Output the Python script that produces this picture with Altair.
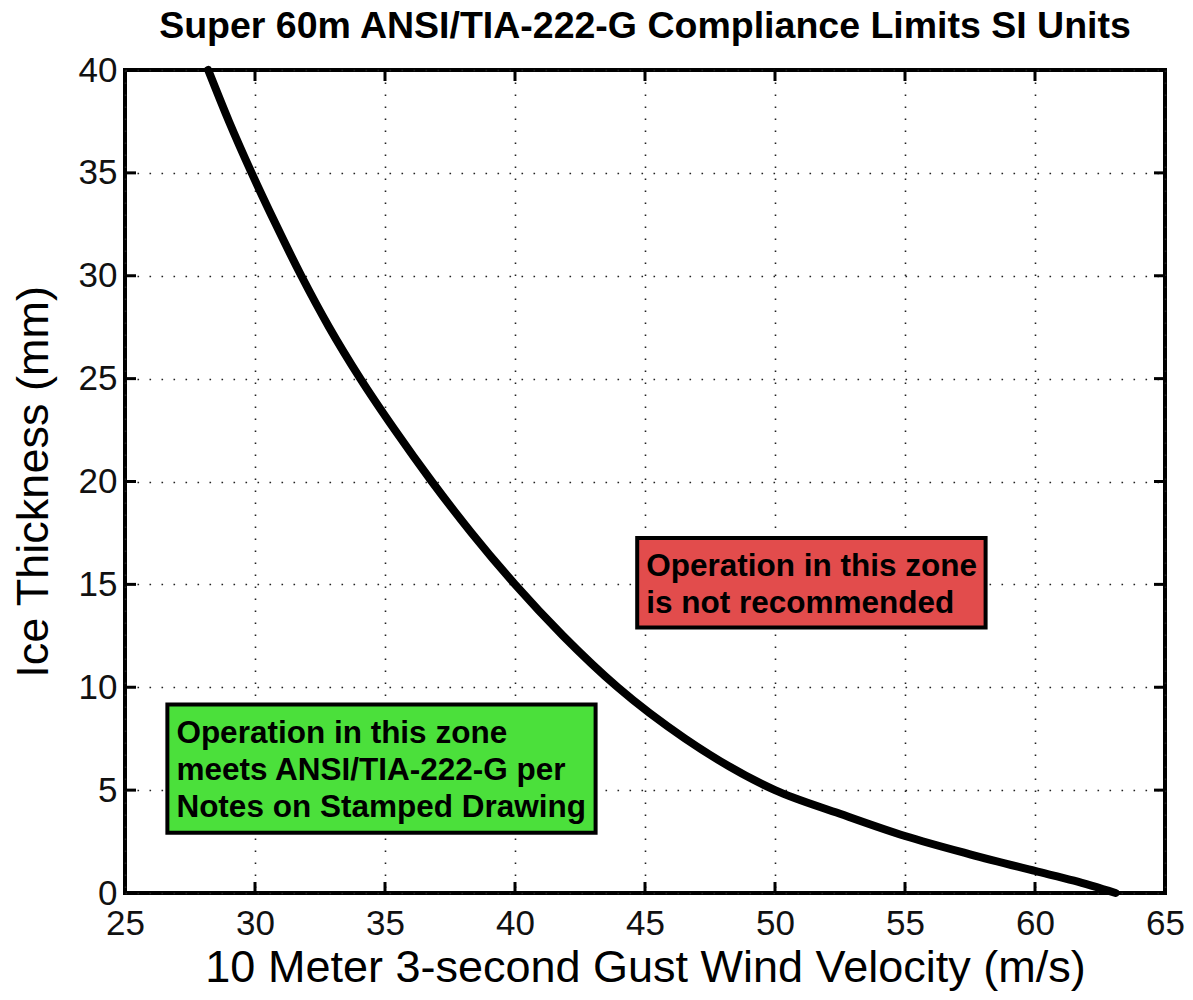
import altair as alt
import pandas as pd

title_text = "Super 60m ANSI/TIA-222-G Compliance Limits SI Units"
x_title = "10 Meter 3-second Gust Wind Velocity (m/s)"
y_title = "Ice Thickness (mm)"

# Limit curve
wind = [28.2, 29.0, 29.87, 30.8, 31.78, 32.85, 34.05, 35.38, 36.8, 38.33, 40.0,
        41.85, 43.95, 46.55, 50.0, 52.5, 55.0, 57.5, 60.0, 61.5, 63.1]
ice = [40, 37.5, 35, 32.5, 30, 27.5, 25, 22.5, 20, 17.5, 15,
       12.5, 10, 7.5, 5, 3.85, 2.77, 1.88, 1.07, 0.6, 0]

x_ticks = [25, 30, 35, 40, 45, 50, 55, 60, 65]
y_ticks = [0, 5, 10, 15, 20, 25, 30, 35, 40]
x_inner = [30, 35, 40, 45, 50, 55, 60]
y_inner = [5, 10, 15, 20, 25, 30, 35]

# Annotation boxes
zone = ["not recommended", "compliant"]
box_x1 = [44.7, 26.63]
box_x2 = [58.1, 43.1]
box_top = [17.25, 9.16]
box_bottom = [12.9, 2.93]
box_fill = ["#E24C4C", "#4BE03B"]
box_text = ["Operation in this zone\nis not recommended",
            "Operation in this zone\nmeets ANSI/TIA-222-G per\nNotes on Stamped Drawing"]

W, H = 1040, 823
FONT = "Liberation Sans"

curve_df = pd.DataFrame({"wind": wind, "ice": ice, "order": list(range(len(wind)))})
box_df = pd.DataFrame({"zone": zone, "x1": box_x1, "x2": box_x2,
                       "y1": box_top, "y2": box_bottom, "label": box_text})
xt_df = pd.DataFrame({"v": x_inner})
yt_df = pd.DataFrame({"v": y_inner})

xscale = alt.Scale(domain=[25, 65], nice=False, zero=False)
yscale = alt.Scale(domain=[0, 40], nice=False, zero=False)

x_axis = alt.Axis(values=x_ticks, grid=True, ticks=False, domain=False,
                  labelFontSize=35, labelPadding=13, labelFlush=False,
                  labelFont=FONT, labelColor="#111", format="d",
                  title=x_title, titleFont=FONT, titleFontSize=45,
                  titleFontWeight="normal", titleColor="black",
                  titleX=W / 2, titleY=88, titleBaseline="alphabetic")
y_axis = alt.Axis(values=y_ticks, grid=True, ticks=False, domain=False,
                  labelFontSize=35, labelPadding=8, labelFlush=False,
                  labelFont=FONT, labelColor="#111", format="d",
                  title=y_title, titleFont=FONT, titleFontSize=45,
                  titleFontWeight="normal", titleColor="black",
                  titleX=-78, titleY=H / 2, titleBaseline="alphabetic")

base_x = alt.X("wind:Q", scale=xscale, axis=x_axis)
base_y = alt.Y("ice:Q", scale=yscale, axis=y_axis)

rects = alt.Chart(box_df).mark_rect(stroke="black", strokeWidth=4).encode(
    x=alt.X("x1:Q", scale=xscale, axis=x_axis),
    x2="x2:Q",
    y=alt.Y("y1:Q", scale=yscale, axis=y_axis),
    y2="y2:Q",
    fill=alt.Fill("zone:N", scale=alt.Scale(domain=zone, range=box_fill), legend=None),
)

texts = alt.Chart(box_df).mark_text(
    align="left", baseline="alphabetic", dx=9, dy=38, font=FONT,
    fontSize=31.5, fontWeight="bold", color="black", lineBreak="\n", lineHeight=37,
).encode(
    x=alt.X("x1:Q", scale=xscale),
    y=alt.Y("y1:Q", scale=yscale),
    text="label:N",
)

curve = alt.Chart(curve_df).mark_line(
    color="black", strokeWidth=8, interpolate="monotone", strokeCap="round"
).encode(
    x=base_x, y=base_y, order="order:Q"
)

tick_bottom = alt.Chart(xt_df).mark_rule(color="black", strokeWidth=3).encode(
    x=alt.X("v:Q", scale=xscale), y=alt.value(H), y2=alt.value(H - 11))
tick_top = alt.Chart(xt_df).mark_rule(color="black", strokeWidth=3).encode(
    x=alt.X("v:Q", scale=xscale), y=alt.value(0), y2=alt.value(11))
tick_left = alt.Chart(yt_df).mark_rule(color="black", strokeWidth=3).encode(
    y=alt.Y("v:Q", scale=yscale), x=alt.value(0), x2=alt.value(11))
tick_right = alt.Chart(yt_df).mark_rule(color="black", strokeWidth=3).encode(
    y=alt.Y("v:Q", scale=yscale), x=alt.value(W), x2=alt.value(W - 11))

chart = alt.layer(rects, texts, curve, tick_bottom, tick_top, tick_left, tick_right).properties(
    width=W, height=H,
    autosize=alt.AutoSizeParams(type="none"),
    padding={"left": 117, "top": 62, "right": 20, "bottom": 99},
    title=alt.TitleParams(title_text, font=FONT, fontSize=37.5, fontWeight="bold",
                          color="black", anchor="middle", offset=-22,
                          baseline="alphabetic"),
).configure_view(stroke="black", strokeWidth=4).configure_axis(
    gridColor="#222", gridDash=[1.6, 10.4], gridWidth=1.6, gridOpacity=1
)

chart.save("out.html", embed_options={"renderer": "svg", "actions": False})
